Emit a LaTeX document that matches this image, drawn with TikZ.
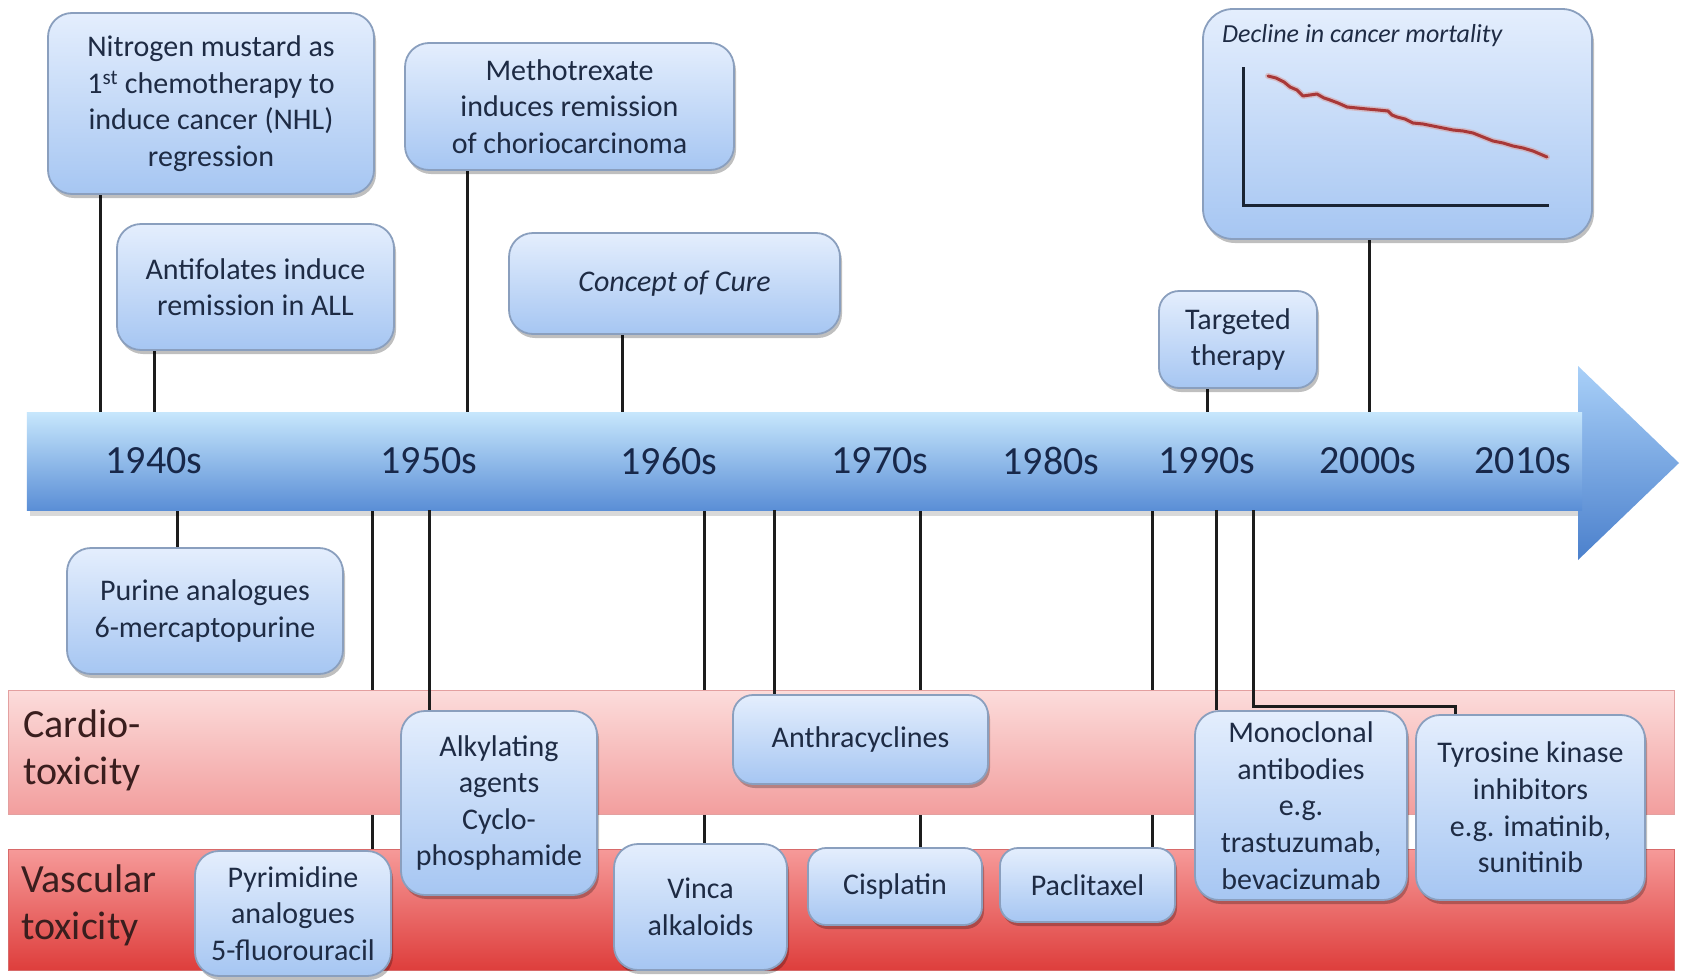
\documentclass[tikz,border=0pt]{standalone}
\usepackage{fontspec}
\setmainfont{Carlito}
\usetikzlibrary{shadows}
\definecolor{boxtop}{HTML}{E4EEFD}
\definecolor{boxbot}{HTML}{A6C6F2}
\definecolor{boxedge}{HTML}{8A9FBE}
\definecolor{txt}{HTML}{1E2B44}
\definecolor{dectxt}{HTML}{18284A}
\definecolor{arrtop}{HTML}{C6E6FC}
\definecolor{arrmid}{HTML}{8AB9F0}
\definecolor{arrbot}{HTML}{5A8ED6}
\definecolor{headtop}{HTML}{A9D0F8}
\definecolor{headbot}{HTML}{4B80CC}
\definecolor{cardtop}{HTML}{FCDCDB}
\definecolor{cardbot}{HTML}{F29E9E}
\definecolor{cardedge}{HTML}{E3A0A0}
\definecolor{vasctop}{HTML}{F69A99}
\definecolor{vascbot}{HTML}{DE3E3C}
\definecolor{vascedge}{HTML}{D86A6A}
\definecolor{bandtxt}{HTML}{3A1E1E}
\definecolor{mort}{HTML}{A83838}
\definecolor{axiscol}{HTML}{1A2433}
\definecolor{conncol}{HTML}{1C1C1C}
\newcommand\bxfont{\fontsize{30}{36.6}\selectfont}
\newcommand\decfnt{\fontsize{40}{47}\selectfont}
\pgfdeclarelayer{back}
\pgfdeclarelayer{mid}
\pgfdeclarelayer{frontlines}
\pgfsetlayers{back,mid,frontlines,main}
\tikzset{
  bx/.style={draw=boxedge, line width=1.8pt, rounded corners=24pt,
    top color=boxtop, bottom color=boxbot, text=txt, font=\bxfont,
    align=center, inner sep=0pt,
    drop shadow={shadow xshift=2pt, shadow yshift=-4pt, opacity=.25, fill=black}},
  cn/.style={draw=conncol, line width=3pt},
  dec/.style={font=\decfnt, text=dectxt, inner sep=0pt},
  bandlbl/.style={font=\decfnt, text=bandtxt, align=left, anchor=west, inner sep=0pt},
  band/.style={line width=1pt, inner sep=0pt}
}
\begin{document}
\begin{tikzpicture}[x=1pt,y=-1pt]
\useasboundingbox (0,0) rectangle (1690,980);

% timeline body (invisible anchor node)
\node[inner sep=0pt, minimum width=1555pt, minimum height=97pt] (tl) at (804.5,461.5) {};

% top boxes
\node[bx, minimum width=326pt, minimum height=181pt] (nm) at (211,103.5)
  {Nitrogen mustard as\\1\textsuperscript{st} chemotherapy to\\induce cancer (NHL)\\regression};
\node[bx, minimum width=277pt, minimum height=126pt] (an) at (255.5,287)
  {Antifolates induce\\remission in ALL};
\node[bx, minimum width=329pt, minimum height=127pt] (me) at (569.5,106.5)
  {Methotrexate\\induces remission\\of choriocarcinoma};
\node[bx, minimum width=331pt, minimum height=101pt] (cu) at (674.5,283.5)
  {\itshape Concept of Cure};
\node[bx, rounded corners=20pt, minimum width=158pt, minimum height=97pt] (ta) at (1238,339.5)
  {Targeted\\therapy};
\node[bx, rounded corners=30pt, minimum width=389pt, minimum height=230pt] (de) at (1397.5,124) {};
\node[font=\itshape\fontsize{26}{30}\selectfont, text=txt, anchor=west, inner sep=0pt] (detitle) at (1222,36)
  {Decline in cancer mortality};
\draw[axiscol, line width=3pt] (1243,67) -- (1243,205) -- (1549,205);
\draw[mort!45, line width=6pt, line join=round, line cap=round, opacity=.6]
  plot coordinates {(1268,76) (1276,78) (1284,82) (1290,87) (1297,90) (1303,96) (1310,95) (1317,94) (1324,98) (1330,100) (1338,103) (1347,107) (1357,108) (1367,109) (1378,110) (1388,111) (1392,115) (1397,117) (1405,119) (1413,123) (1423,124) (1433,126) (1443,128) (1453,130) (1463,131) (1473,133) (1483,137) (1493,141) (1503,143) (1513,146) (1523,148) (1533,151) (1540,154) (1547,157)};
\draw[mort, line width=3pt, line join=round, line cap=round]
  plot coordinates {(1268,76) (1276,78) (1284,82) (1290,87) (1297,90) (1303,96) (1310,95) (1317,94) (1324,98) (1330,100) (1338,103) (1347,107) (1357,108) (1367,109) (1378,110) (1388,111) (1392,115) (1397,117) (1405,119) (1413,123) (1423,124) (1433,126) (1443,128) (1453,130) (1463,131) (1473,133) (1483,137) (1493,141) (1503,143) (1513,146) (1523,148) (1533,151) (1540,154) (1547,157)};

% decade labels
\node[dec] (d40) at (154,461) {1940s};
\node[dec] (d50) at (429,461) {1950s};
\node[dec] (d60) at (669,461) {1960s};
\node[dec] (d70) at (880,461) {1970s};
\node[dec] (d80) at (1051,461) {1980s};
\node[dec] (d90) at (1207,461) {1990s};
\node[dec] (d00) at (1368,461) {2000s};
\node[dec] (d10) at (1523,461) {2010s};

% bottom boxes
\node[bx, minimum width=276pt, minimum height=126pt] (pu) at (205,611)
  {Purine analogues\\6-mercaptopurine};
\node[bx, minimum width=196pt, minimum height=184pt] (al) at (499,803)
  {Alkylating\\agents\\Cyclo-\\phosphamide};
\node[bx, minimum width=196pt, minimum height=125pt] (py) at (293,913.5)
  {Pyrimidine\\analogues\\5-fluorouracil};
\node[bx, minimum width=173pt, minimum height=126pt] (vi) at (700.5,907)
  {Vinca\\alkaloids};
\node[bx, rounded corners=20pt, minimum width=255pt, minimum height=89pt] (at) at (860.5,739.5)
  {Anthracyclines};
\node[bx, rounded corners=18pt, minimum width=174pt, minimum height=77pt] (ci) at (895,886.5)
  {Cisplatin};
\node[bx, rounded corners=18pt, minimum width=175pt, minimum height=74pt] (pa) at (1087.5,885)
  {Paclitaxel};
\node[bx, minimum width=212pt, minimum height=189pt] (mo) at (1301,805.5)
  {Monoclonal\\antibodies\\e.g.\\trastuzumab,\\bevacizumab};
\node[bx, minimum width=229pt, minimum height=185pt] (tk) at (1530.5,807.5)
  {Tyrosine kinase\\inhibitors\\e.g. imatinib,\\sunitinib};

% band labels
\node[bandlbl] (cardlbl) at (23,750) {Cardio-\\toxicity};
\node[bandlbl] (vasclbl) at (21,905.5) {Vascular\\toxicity};

% arrow and bands
\begin{pgfonlayer}{mid}
  \fill[black, opacity=.15] (30,417) rectangle (1584,516);
  \shade[top color=headtop, bottom color=headbot] (1578,366) -- (1679,463) -- (1578,560) -- cycle;
  \shade[top color=arrtop, middle color=arrmid, bottom color=arrbot] (tl.north west) rectangle (tl.south east);
  \node[band, draw=cardedge, top color=cardtop, bottom color=cardbot,
    minimum width=1666pt, minimum height=124pt] (cardio) at (841,752) {};
  \node[band, draw=vascedge, top color=vasctop, bottom color=vascbot,
    minimum width=1666pt, minimum height=121pt] (vasc) at (841,909.5) {};
\end{pgfonlayer}

% connectors
\coordinate (pnm) at (100,413);
\coordinate (pan) at (154,413);
\coordinate (pme) at (467,413);
\coordinate (pcu) at (622,413);
\coordinate (pta) at (1207,413);
\coordinate (pde) at (1369,413);
\coordinate (ppu) at (177,510);
\coordinate (ppy) at (372,510);
\coordinate (pal) at (429,510);
\coordinate (pvi) at (704,510);
\coordinate (pat) at (774,510);
\coordinate (pci) at (920,510);
\coordinate (ppa) at (1152,510);
\coordinate (pmo) at (1216,510);
\coordinate (ptk) at (1253,510);
\coordinate (etk) at (1455,706);
\begin{pgfonlayer}{back}
  \fill[white] (0,0) rectangle (1690,980);
  \draw[cn] (pnm |- nm.south) -- (pnm);
  \draw[cn] (pan |- an.south) -- (pan);
  \draw[cn] (pme |- me.south) -- (pme);
  \draw[cn] (pcu |- cu.south) -- (pcu);
  \draw[cn] (pta |- ta.south) -- (pta);
  \draw[cn] (pde |- de.south) -- (pde);
  \draw[cn] (ppu) -- (ppu |- pu.north);
  \draw[cn] (ppy) -- (ppy |- py.north);
  \draw[cn] (pvi) -- (pvi |- vi.north);
  \draw[cn] (pci) -- (pci |- ci.north);
  \draw[cn] (ppa) -- (ppa |- pa.north);
\end{pgfonlayer}
\begin{pgfonlayer}{frontlines}
  \draw[cn] (pal) -- (pal |- al.north);
  \draw[cn] (pat) -- (pat |- at.north);
  \draw[cn] (pmo) -- (pmo |- mo.north);
  \draw[cn] (ptk) |- (etk) -- (etk |- tk.north);
\end{pgfonlayer}
\end{tikzpicture}
\end{document}
